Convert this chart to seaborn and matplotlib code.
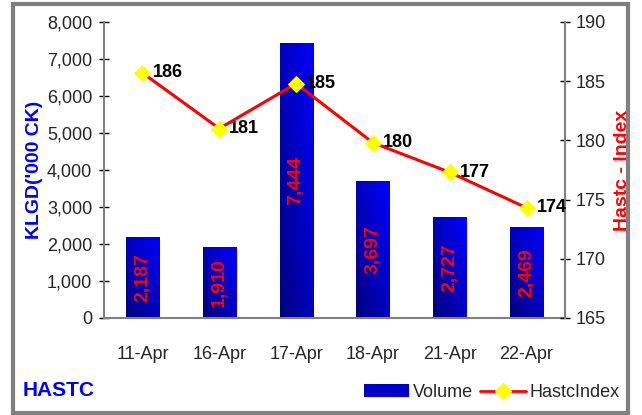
import numpy as np
import pandas as pd
import seaborn as sns
import matplotlib.pyplot as plt
from matplotlib.colors import LinearSegmentedColormap
from matplotlib.patches import Rectangle, Patch
from matplotlib.lines import Line2D

# data
dates = ["11-Apr", "16-Apr", "17-Apr", "18-Apr", "21-Apr", "22-Apr"]
volume = [2187, 1910, 7444, 3697, 2727, 2469]
index_vals = [185.7, 181.0, 184.8, 179.8, 177.3, 174.3]
index_labels = ["186", "181", "185", "180", "177", "174"]

df = pd.DataFrame({"date": dates, "volume": volume, "index": index_vals})

sns.set_style("white")
plt.rcParams["font.family"] = ["Liberation Sans Narrow", "Liberation Sans", "DejaVu Sans"]

fig = plt.figure(figsize=(6.42, 4.15), dpi=100)
ax = fig.add_axes([0.162, 0.234, 0.718, 0.713])

# volume bars
sns.barplot(data=df, x="date", y="volume", color="#0000ee", width=0.43, ax=ax, zorder=2)

# gradient fill for each bar
cmap = LinearSegmentedColormap.from_list("bl", ["#000080", "#0000ff"])
grad = np.add.outer(np.linspace(0, 1, 50), np.linspace(0, 1, 50)) / 2
for p in ax.patches:
    x0, y0 = p.get_x(), p.get_y()
    w, h = p.get_width(), p.get_height()
    p.set_facecolor("none")
    p.set_edgecolor("none")
    im = ax.imshow(grad, cmap=cmap, origin="lower", extent=[x0, x0 + w, y0, y0 + h],
                   aspect="auto", zorder=2, interpolation="bilinear")
    im.set_clip_path(p)
    ax.text(x0 + w / 2, h / 2, f"{int(h):,}", rotation=90, ha="center", va="center",
            color="red", fontsize=14, fontweight="bold", zorder=3)

ax.set_xlim(-0.5, 5.5)
ax.set_ylim(0, 8000)
ax.set_yticks(range(0, 8001, 1000))
ax.set_yticklabels([f"{v:,}" for v in range(0, 8001, 1000)])
ax.set_xlabel("")
ax.set_ylabel("KLGD('000 CK)", color="blue", fontsize=14, fontweight="bold",
              family=["Liberation Sans", "DejaVu Sans"], labelpad=3)
ax.tick_params(axis="y", direction="inout", length=7, width=1, color="black", labelsize=13, pad=5)
ax.tick_params(axis="x", length=0, labelsize=13, pad=20)
for s in ["top", "right"]:
    ax.spines[s].set_visible(False)
for s in ["left", "bottom"]:
    ax.spines[s].set_color("#808080")
    ax.spines[s].set_linewidth(1.5)

# index line on right axis
ax2 = ax.twinx()
sns.lineplot(data=df, x="date", y="index", color="red", linewidth=2.2, marker="D",
             markersize=8, markerfacecolor="yellow", markeredgecolor="yellow",
             ax=ax2, zorder=4, sort=False)
for i, (v, lab) in enumerate(zip(index_vals, index_labels)):
    ax2.text(i + 0.13, v, lab, ha="left", va="center", fontsize=13,
             fontweight="bold", color="black", family=["Liberation Sans", "DejaVu Sans"])
ax2.set_xlim(-0.5, 5.5)
ax2.set_ylim(165, 190)
ax2.set_yticks(range(165, 191, 5))
ax2.set_ylabel("Hastc - Index", color="red", fontsize=14, fontweight="bold",
               family=["Liberation Sans", "DejaVu Sans"], labelpad=6)
ax2.tick_params(axis="y", direction="inout", length=7, width=1, color="black", labelsize=13, pad=4)
for s in ["top", "left", "bottom"]:
    ax2.spines[s].set_visible(False)
ax2.spines["right"].set_color("#808080")
ax2.spines["right"].set_linewidth(1.5)

# title text and legend
fig.text(0.035, 0.045, "HASTC", color="blue", fontsize=15, fontweight="bold",
         family=["Liberation Sans", "DejaVu Sans"])
handles = [Patch(facecolor="#0000cc", edgecolor="none"),
           Line2D([], [], color="red", linewidth=2, marker="D", markersize=8,
                  markerfacecolor="yellow", markeredgecolor="yellow")]
fig.legend(handles, ["Volume", "HastcIndex"], loc="lower right", bbox_to_anchor=(0.99, -0.005),
           ncol=2, frameon=False, fontsize=13, handlelength=2.5, columnspacing=0.4,
           handletextpad=0.2)

# outer grey frame
fig.patches.append(Rectangle((0.02, 0.005), 0.958, 0.985, transform=fig.transFigure,
                             fill=False, edgecolor="#808080", linewidth=3))

fig.savefig("out.png", dpi=100)
